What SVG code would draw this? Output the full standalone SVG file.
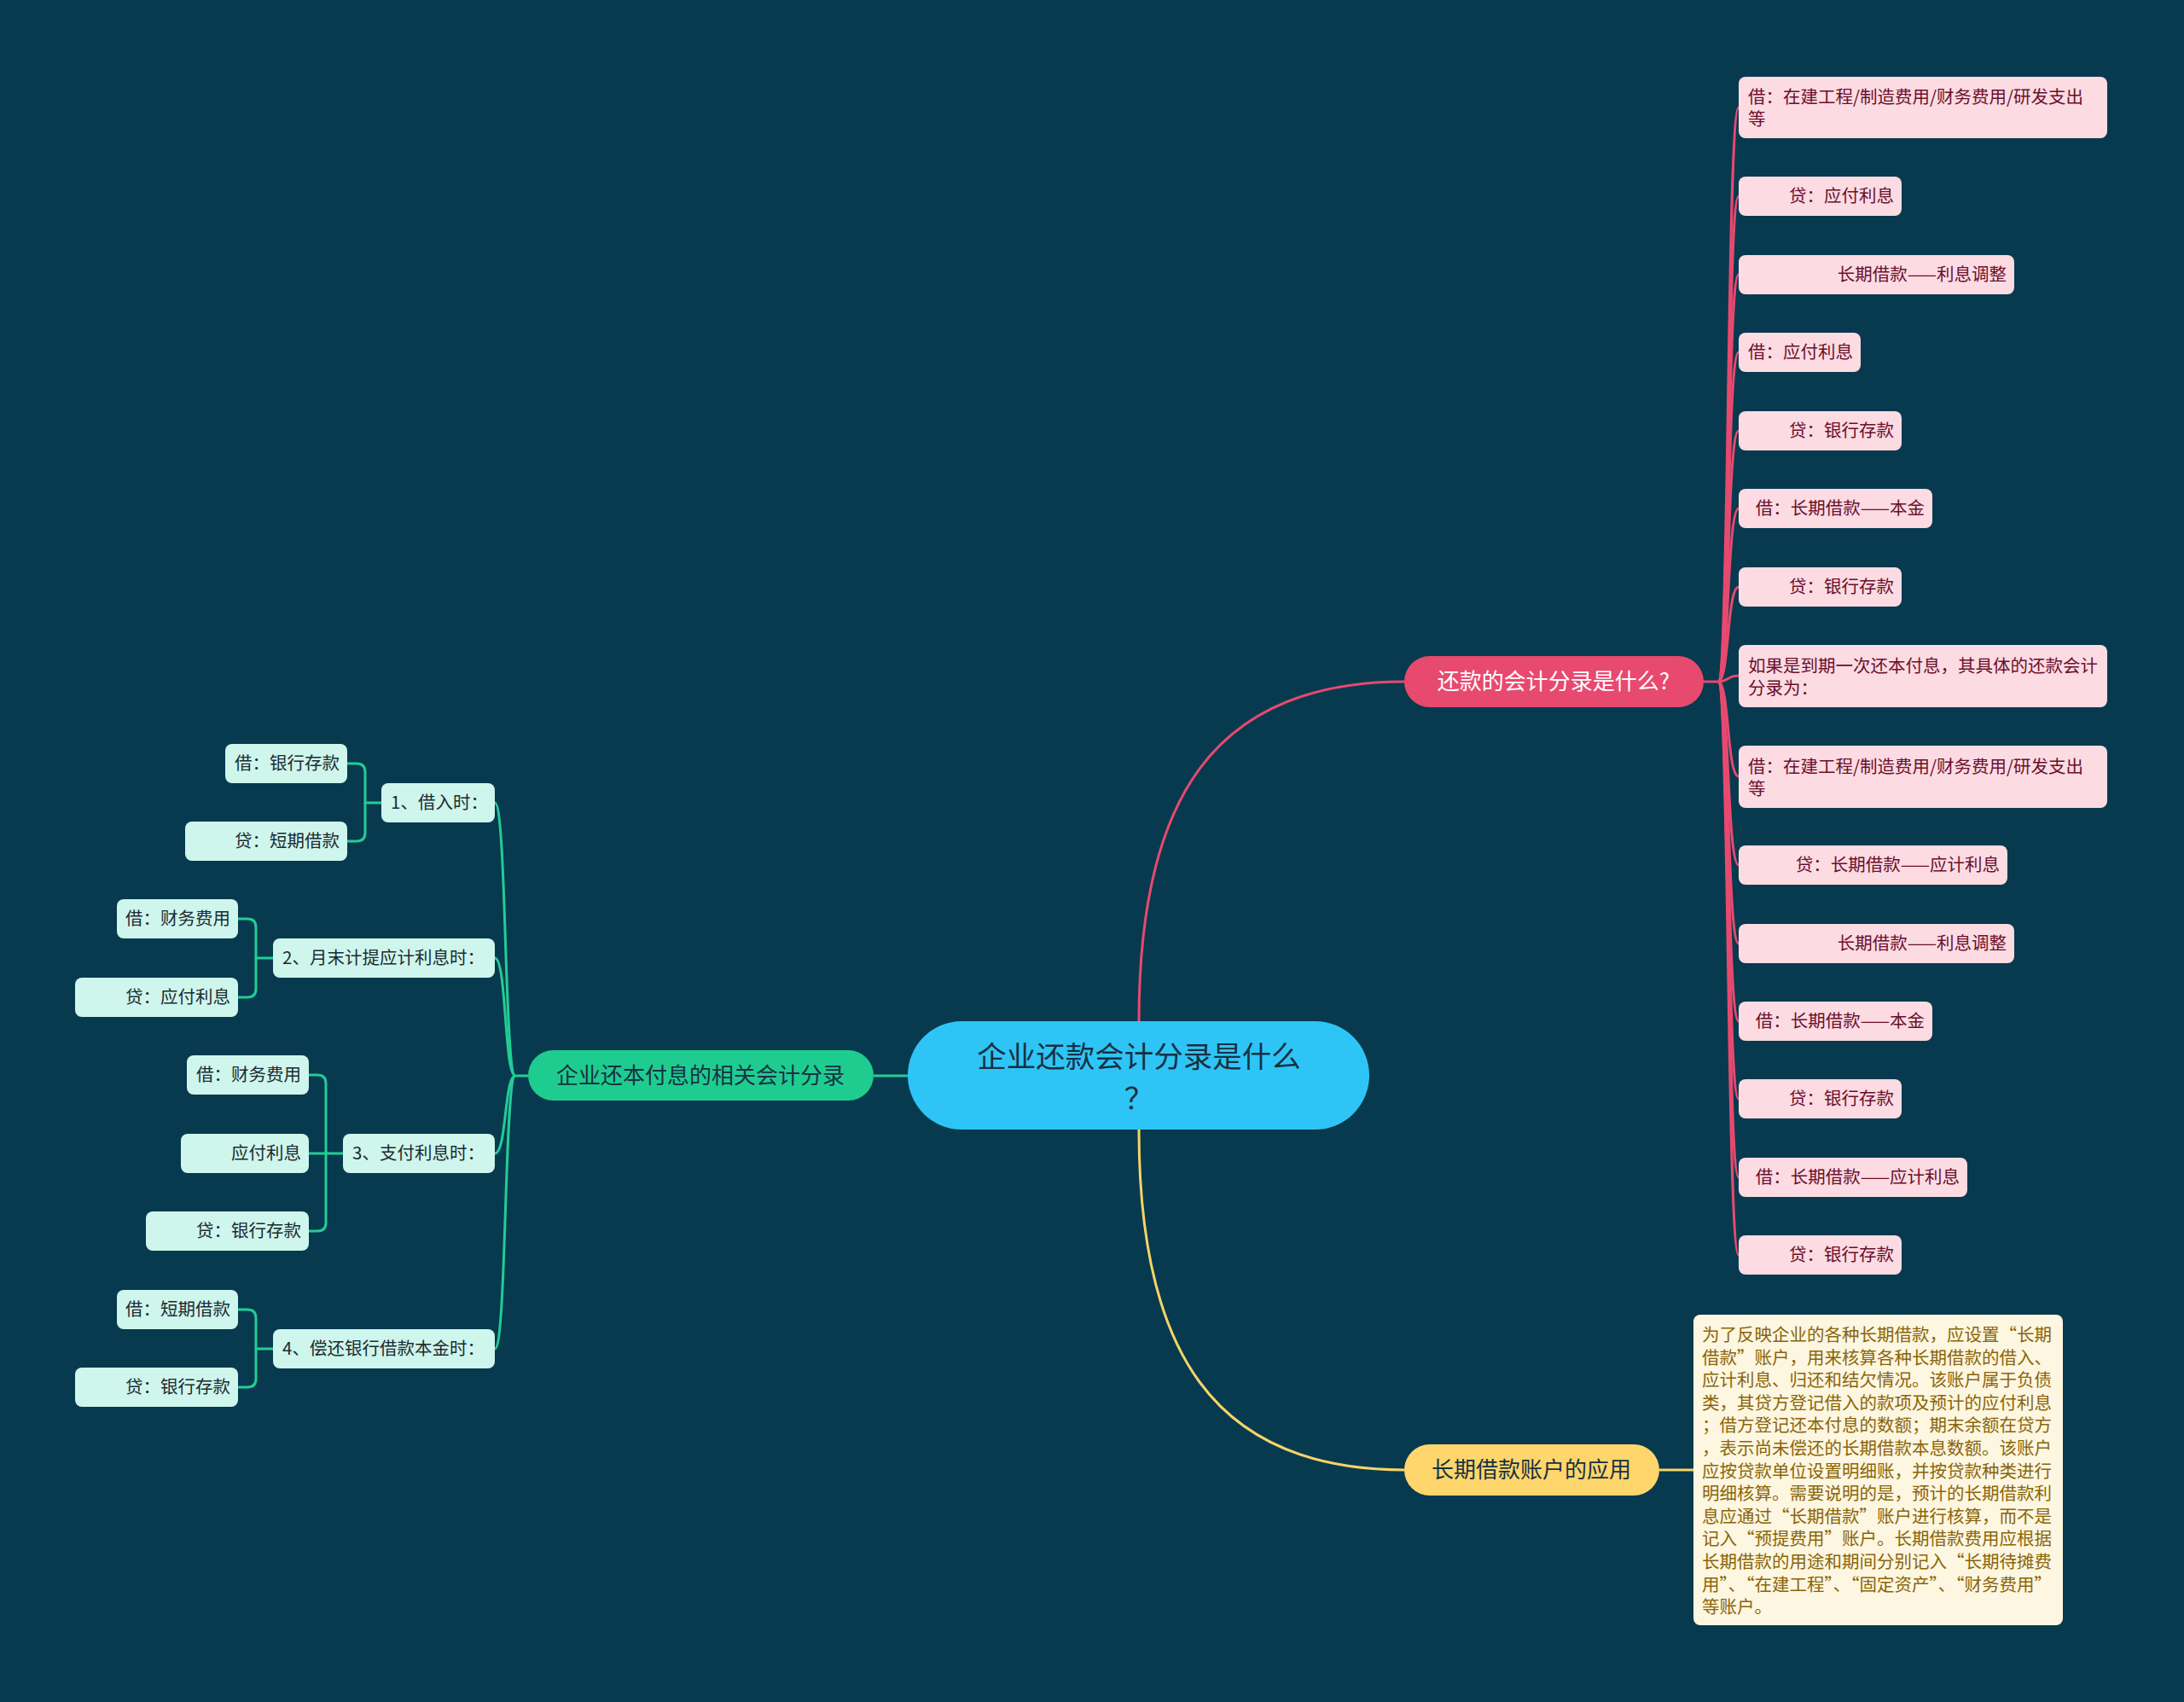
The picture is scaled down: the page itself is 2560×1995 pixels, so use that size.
<svg xmlns="http://www.w3.org/2000/svg" width="2560" height="1995" viewBox="0 0 2560 1995">
<style>
text{font-family:"Noto Sans CJK SC","Noto Sans",sans-serif;}
.pk rect{fill:#fcdbe3;}
.pk text{fill:#6b0f2b;font-size:20.5px;}
.gr rect{fill:#cff6ec;}
.gr text{fill:#1b2b32;font-size:20.5px;}
.e{text-anchor:end;}
.c{text-anchor:middle;}
.cp{fill:none;stroke:#e8496f;stroke-width:3;}
.cg{fill:none;stroke:#22cc95;stroke-width:3;}
.cy{fill:none;stroke:#f6d466;stroke-width:3;}
</style>
<rect width="2560" height="1995" fill="#073a4f"/>
<g id="connectors">
<path class="cp" d="M1335 1197 C1335 940 1420 799 1646 799"/>
<path class="cy" d="M1335 1324 C1335 1580 1420 1723 1646 1723"/>
<path class="cg" d="M1064 1261 H1024"/>
<path class="cy" d="M1945 1723 H1985"/>
<g>
<path class="cp" d="M1997 799 H2014 C2027 799 2024 126 2038 126"/>
<path class="cp" d="M2014 799 C2027 799 2024 230 2038 230"/>
<path class="cp" d="M2014 799 C2027 799 2024 322 2038 322"/>
<path class="cp" d="M2014 799 C2027 799 2024 413 2038 413"/>
<path class="cp" d="M2014 799 C2027 799 2024 505 2038 505"/>
<path class="cp" d="M2014 799 C2027 799 2024 596 2038 596"/>
<path class="cp" d="M2014 799 C2027 799 2024 688 2038 688"/>
<path class="cp" d="M2014 799 C2027 799 2024 792 2038 792"/>
<path class="cp" d="M2014 799 C2027 799 2024 910 2038 910"/>
<path class="cp" d="M2014 799 C2027 799 2024 1014 2038 1014"/>
<path class="cp" d="M2014 799 C2027 799 2024 1106 2038 1106"/>
<path class="cp" d="M2014 799 C2027 799 2024 1197 2038 1197"/>
<path class="cp" d="M2014 799 C2027 799 2024 1288 2038 1288"/>
<path class="cp" d="M2014 799 C2027 799 2024 1380 2038 1380"/>
<path class="cp" d="M2014 799 C2027 799 2024 1471 2038 1471"/>
</g>
<g>
<path class="cg" d="M619 1261 H604 C591 1261 594 941 580 941"/>
<path class="cg" d="M604 1261 C591 1261 594 1123 580 1123"/>
<path class="cg" d="M604 1261 C591 1261 594 1352 580 1352"/>
<path class="cg" d="M604 1261 C591 1261 594 1581 580 1581"/>
</g>
<g>
<path class="cg" d="M447 941 H428 V905 Q428 895 418 895 H407"/>
<path class="cg" d="M428 941 V976 Q428 986 418 986 H407"/>
<path class="cg" d="M320 1123 H300 V1087 Q300 1077 290 1077 H279"/>
<path class="cg" d="M300 1123 V1159 Q300 1169 290 1169 H279"/>
<path class="cg" d="M402 1352 H362"/>
<path class="cg" d="M382 1352 V1270 Q382 1260 372 1260 H362"/>
<path class="cg" d="M382 1352 V1433 Q382 1443 372 1443 H362"/>
<path class="cg" d="M320 1581 H300 V1545 Q300 1535 290 1535 H279"/>
<path class="cg" d="M300 1581 V1616 Q300 1626 290 1626 H279"/>
</g>
</g>
<g id="center">
<rect x="1064" y="1197" width="541" height="127" rx="63.5" fill="#2ec5f6"/>
<text class="c" font-size="34.5" fill="#173142"><tspan x="1335" y="1251">企业还款会计分录是什么</tspan><tspan x="1335" y="1300">？</tspan></text>
</g>
<g id="n-right">
<rect x="1646" y="769" width="351" height="60" rx="30" fill="#e8496f"/>
<text class="c" x="1821" y="808" font-size="26" fill="#ffffff">还款的会计分录是什么?</text>
</g>
<g id="n-left">
<rect x="619" y="1231" width="405" height="59" rx="29.5" fill="#1fcc90"/>
<text class="c" x="821" y="1270" font-size="26" fill="#173142">企业还本付息的相关会计分录</text>
</g>
<g id="n-bottom">
<rect x="1646" y="1693" width="299" height="60" rx="30" fill="#fed66b"/>
<text class="c" x="1795" y="1732" font-size="26" fill="#173142">长期借款账户的应用</text>
</g>
<g id="n-detail">
<rect x="1985" y="1541" width="433" height="364" rx="8" fill="#fdf6e0"/>
<text font-size="20.5" fill="#8a6508">
<tspan x="1995" y="1572">为了反映企业的各种长期借款，应设置“长期</tspan>
<tspan x="1995" y="1598.6">借款”账户，用来核算各种长期借款的借入、</tspan>
<tspan x="1995" y="1625.2">应计利息、归还和结欠情况。该账户属于负债</tspan>
<tspan x="1995" y="1651.8">类，其贷方登记借入的款项及预计的应付利息</tspan>
<tspan x="1995" y="1678.4">；借方登记还本付息的数额；期末余额在贷方</tspan>
<tspan x="1995" y="1705">，表示尚未偿还的长期借款本息数额。该账户</tspan>
<tspan x="1995" y="1731.6">应按贷款单位设置明细账，并按贷款种类进行</tspan>
<tspan x="1995" y="1758.2">明细核算。需要说明的是，预计的长期借款利</tspan>
<tspan x="1995" y="1784.8">息应通过“长期借款”账户进行核算，而不是</tspan>
<tspan x="1995" y="1811.4">记入“预提费用”账户。长期借款费用应根据</tspan>
<tspan x="1995" y="1838">长期借款的用途和期间分别记入“长期待摊费</tspan>
<tspan x="1995" y="1864.6">用”、“在建工程”、“固定资产”、“财务费用”</tspan>
<tspan x="1995" y="1891.2">等账户。</tspan>
</text>
</g>
<g class="pk">
<g id="r1"><rect x="2038" y="90" width="432" height="72" rx="8"/><text x="2049" y="121">借：在建工程/制造费用/财务费用/研发支出</text><text x="2049" y="147">等</text></g>
<g id="r2"><rect x="2038" y="207" width="191" height="46" rx="8"/><text class="e" x="2220" y="237">贷：应付利息</text></g>
<g id="r3"><rect x="2038" y="299" width="323" height="46" rx="8"/><text class="e" x="2352" y="329">长期借款——利息调整</text></g>
<g id="r4"><rect x="2038" y="390" width="143" height="46" rx="8"/><text class="e" x="2172" y="420">借：应付利息</text></g>
<g id="r5"><rect x="2038" y="482" width="191" height="46" rx="8"/><text class="e" x="2220" y="512">贷：银行存款</text></g>
<g id="r6"><rect x="2038" y="573" width="227" height="46" rx="8"/><text class="e" x="2256" y="603">借：长期借款——本金</text></g>
<g id="r7"><rect x="2038" y="665" width="191" height="46" rx="8"/><text class="e" x="2220" y="695">贷：银行存款</text></g>
<g id="r8"><rect x="2038" y="756" width="432" height="73" rx="8"/><text x="2049" y="788">如果是到期一次还本付息，其具体的还款会计</text><text x="2049" y="814">分录为：</text></g>
<g id="r9"><rect x="2038" y="874" width="432" height="73" rx="8"/><text x="2049" y="906">借：在建工程/制造费用/财务费用/研发支出</text><text x="2049" y="932">等</text></g>
<g id="r10"><rect x="2038" y="991" width="315" height="46" rx="8"/><text class="e" x="2344" y="1021">贷：长期借款——应计利息</text></g>
<g id="r11"><rect x="2038" y="1083" width="323" height="46" rx="8"/><text class="e" x="2352" y="1113">长期借款——利息调整</text></g>
<g id="r12"><rect x="2038" y="1174" width="227" height="46" rx="8"/><text class="e" x="2256" y="1204">借：长期借款——本金</text></g>
<g id="r13"><rect x="2038" y="1265" width="191" height="46" rx="8"/><text class="e" x="2220" y="1295">贷：银行存款</text></g>
<g id="r14"><rect x="2038" y="1357" width="268" height="46" rx="8"/><text class="e" x="2297" y="1387">借：长期借款——应计利息</text></g>
<g id="r15"><rect x="2038" y="1448" width="191" height="46" rx="8"/><text class="e" x="2220" y="1478">贷：银行存款</text></g>
</g>
<g class="gr">
<g id="l1"><rect x="447" y="918" width="133" height="46" rx="8"/><text x="458" y="948">1、借入时：</text></g>
<g id="l2"><rect x="320" y="1100" width="260" height="46" rx="8"/><text x="331" y="1130">2、月末计提应计利息时：</text></g>
<g id="l3"><rect x="402" y="1329" width="178" height="46" rx="8"/><text x="413" y="1359">3、支付利息时：</text></g>
<g id="l4"><rect x="320" y="1558" width="260" height="46" rx="8"/><text x="331" y="1588">4、偿还银行借款本金时：</text></g>
<g id="l1a"><rect x="264" y="872" width="143" height="46" rx="8"/><text class="e" x="398" y="902">借：银行存款</text></g>
<g id="l1b"><rect x="217" y="963" width="190" height="46" rx="8"/><text class="e" x="398" y="993">贷：短期借款</text></g>
<g id="l2a"><rect x="137" y="1054" width="142" height="46" rx="8"/><text class="e" x="270" y="1084">借：财务费用</text></g>
<g id="l2b"><rect x="88" y="1146" width="191" height="46" rx="8"/><text class="e" x="270" y="1176">贷：应付利息</text></g>
<g id="l3a"><rect x="219" y="1237" width="143" height="46" rx="8"/><text class="e" x="353" y="1267">借：财务费用</text></g>
<g id="l3b"><rect x="212" y="1329" width="150" height="46" rx="8"/><text class="e" x="353" y="1359">应付利息</text></g>
<g id="l3c"><rect x="171" y="1420" width="191" height="46" rx="8"/><text class="e" x="353" y="1450">贷：银行存款</text></g>
<g id="l4a"><rect x="137" y="1512" width="142" height="46" rx="8"/><text class="e" x="270" y="1542">借：短期借款</text></g>
<g id="l4b"><rect x="88" y="1603" width="191" height="46" rx="8"/><text class="e" x="270" y="1633">贷：银行存款</text></g>
</g>
</svg>
